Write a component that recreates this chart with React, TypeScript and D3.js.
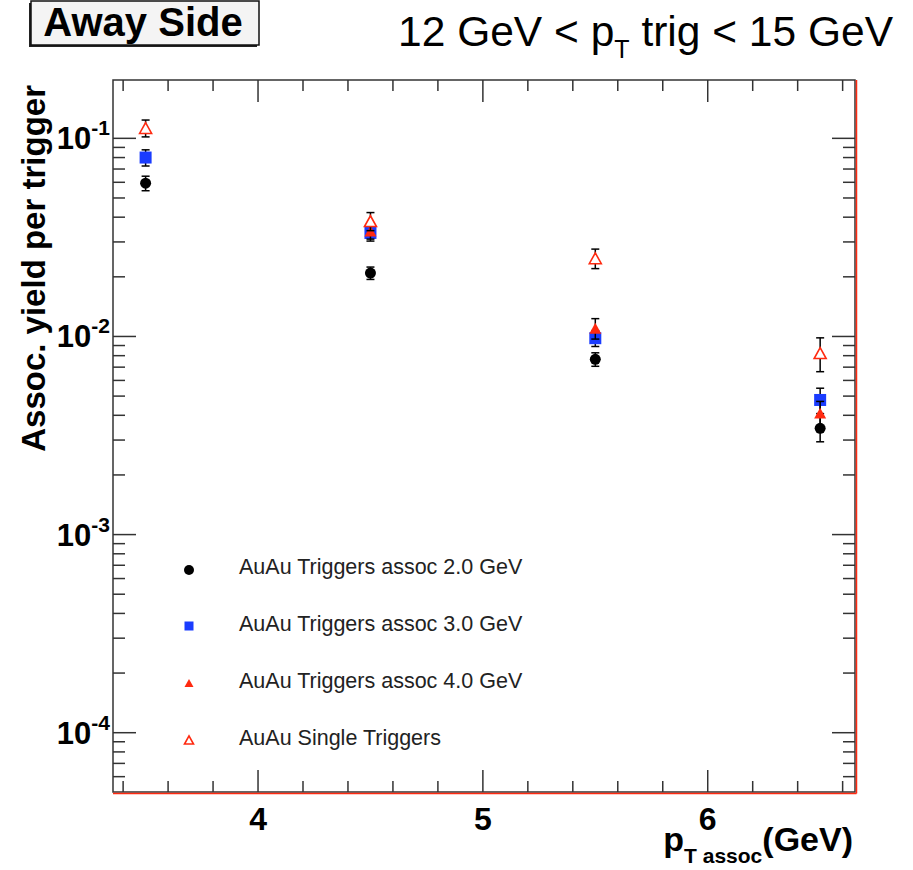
import React from "react";
import * as d3 from "d3";

// pT assoc bin centres (GeV)
const binCentres = [3.5, 4.5, 5.5, 6.5];

// Away-side associated yield per trigger, 12 < pT trig < 15 GeV
const assoc2 = [0.0594, 0.0209, 0.00767, 0.00344];
const assoc2Err = [0.005, 0.0015, 0.0006, 0.0005];
const assoc3 = [0.08, 0.0333, 0.0098, 0.00478];
const assoc3Err = [0.0075, 0.003, 0.0009, 0.0007];
const assoc4: (number | null)[] = [null, 0.034, 0.011, 0.0041];
const assoc4Err: (number | null)[] = [null, 0.003, 0.0013, 0.0006];
const single = [0.1127, 0.0382, 0.0248, 0.00824];
const singleErr = [0.011, 0.004, 0.0028, 0.0016];

const legendLabels = [
  "AuAu Triggers assoc 2.0 GeV",
  "AuAu Triggers assoc 3.0 GeV",
  "AuAu Triggers assoc 4.0 GeV",
  "AuAu Single Triggers",
];

const xTickLabels = [4, 5, 6];
const yDecades = [-1, -2, -3, -4];

const W = 913;
const H = 870;
const L = 113, R = 855, T = 80, B = 792;

const RED = "#ff2a10";
const BLUE = "#1a3cff";
const FONT = "'Liberation Sans', Arial, Helvetica, sans-serif";

type Kind = "circle" | "square" | "tri" | "otri";

function Marker({ kind, cx, cy, s }: { kind: Kind; cx: number; cy: number; s: number }) {
  if (kind === "circle") return <circle cx={cx} cy={cy} r={s / 2} fill="#000" />;
  if (kind === "square")
    return <rect x={cx - s / 2} y={cy - s / 2} width={s} height={s} fill={BLUE} />;
  const h = s * 0.9;
  const pts = `${cx - s / 2},${cy + h / 2} ${cx + s / 2},${cy + h / 2} ${cx},${cy - h / 2}`;
  if (kind === "tri") return <polygon points={pts} fill={RED} />;
  return <polygon points={pts} fill="#fff" stroke={RED} strokeWidth={1.6} />;
}

export default function App() {
  const x = d3.scaleLinear().domain([3.355, 6.655]).range([L, R]);
  const y = d3.scaleLog().domain([5.02e-5, 0.197]).range([B, T]);

  const xMinor = d3.range(3.4, 6.66, 0.2).map((v) => Math.round(v * 10) / 10);
  const yTicks: { v: number; major: boolean }[] = [];
  for (let e = -5; e <= 0; e++) {
    for (let m = 1; m <= 9; m++) {
      const v = m * Math.pow(10, e);
      if (v >= 5.02e-5 && v <= 0.197) yTicks.push({ v, major: m === 1 });
    }
  }

  const series: { kind: Kind; vals: (number | null)[]; errs: (number | null)[]; size: number }[] = [
    { kind: "circle", vals: assoc2, errs: assoc2Err, size: 11 },
    { kind: "square", vals: assoc3, errs: assoc3Err, size: 12 },
    { kind: "tri", vals: assoc4, errs: assoc4Err, size: 12 },
    { kind: "otri", vals: single, errs: singleErr, size: 12 },
  ];

  const legendY = [570, 626, 683, 740];
  const legendKinds: Kind[] = ["circle", "square", "tri", "otri"];

  return (
    <svg
      width={W}
      height={H}
      style={{ position: "absolute", left: 0, top: 0, background: "#fff" }}
      fontFamily={FONT}
    >
      <rect x={0} y={0} width={W} height={H} fill="#fff" />

      {/* title box */}
      <rect x={29} y={3} width={228} height={44} fill="#222" />
      <rect x={31} y={1} width={228} height={44} fill="#f4f4f4" stroke="#111" strokeWidth={1.5} />
      <text x={143} y={36} textAnchor="middle" fontSize={40} fontWeight="bold" fill="#000">
        Away Side
      </text>

      {/* trigger range */}
      <text x={893} y={46} textAnchor="end" fontSize={42.5} fill="#000">
        12 GeV {"<"} p
        <tspan fontSize={25} dy={12}>T</tspan>
        <tspan dy={-12}> trig {"<"} 15 GeV</tspan>
      </text>

      {/* ticks */}
      <g stroke="#333" strokeWidth={1.5}>
        {xMinor.map((v) => {
          const major = Math.abs(v - Math.round(v)) < 1e-6;
          const len = major ? 22 : 11;
          return (
            <g key={`xt${v}`}>
              <line x1={x(v)} x2={x(v)} y1={B} y2={B - len} />
              <line x1={x(v)} x2={x(v)} y1={T} y2={T + len} />
            </g>
          );
        })}
        {yTicks.map((t, i) => {
          const len = t.major ? 23 : 12;
          return (
            <g key={`yt${i}`}>
              <line x1={L} x2={L + len} y1={y(t.v)} y2={y(t.v)} />
              <line x1={R} x2={R - len} y1={y(t.v)} y2={y(t.v)} />
            </g>
          );
        })}
      </g>

      {/* frame */}
      <rect x={L} y={T} width={R - L} height={B - T} fill="none" stroke="#333" strokeWidth={1.5} />
      <line x1={R + 1.5} x2={R + 1.5} y1={T} y2={B + 1.5} stroke={RED} strokeWidth={1.5} />
      <line x1={L} x2={R + 1.5} y1={B + 1.5} y2={B + 1.5} stroke={RED} strokeWidth={1.5} />

      {/* y tick labels */}
      {yDecades.map((e) => (
        <text key={`yl${e}`} x={110} y={y(Math.pow(10, e)) + 11} textAnchor="end" fontWeight="bold" fill="#000">
          <tspan fontSize={31}>10</tspan>
          <tspan fontSize={21} dy={-14}>{`-${Math.abs(e)}`}</tspan>
        </text>
      ))}

      {/* x tick labels */}
      {xTickLabels.map((v) => (
        <text key={`xl${v}`} x={x(v)} y={830} textAnchor="middle" fontSize={32} fontWeight="bold" fill="#000">
          {v}
        </text>
      ))}

      {/* axis titles */}
      <text x={853} y={851} textAnchor="end" fontWeight="bold" fill="#000">
        <tspan fontSize={34}>p</tspan>
        <tspan fontSize={21} dy={12}>T assoc</tspan>
        <tspan fontSize={34} dy={-12}>(GeV)</tspan>
      </text>
      <text
        transform={`translate(45,85) rotate(-90)`}
        textAnchor="end"
        fontSize={33}
        fontWeight="bold"
        fill="#000"
      >
        Assoc. yield per trigger
      </text>

      {/* data */}
      {series.map((s, si) => (
        <g key={`s${si}`}>
          {binCentres.map((xc, i) => {
            const v = s.vals[i];
            const e = s.errs[i];
            if (v == null || e == null) return null;
            const px = x(xc);
            const y1 = y(v + e);
            const y2 = y(v - e);
            return (
              <g key={`p${i}`}>
                <g stroke="#000" strokeWidth={1.5}>
                  <line x1={px} x2={px} y1={y1} y2={y2} />
                  <line x1={px - 4} x2={px + 4} y1={y1} y2={y1} />
                  <line x1={px - 4} x2={px + 4} y1={y2} y2={y2} />
                </g>
                <Marker kind={s.kind} cx={px} cy={y(v)} s={s.size} />
              </g>
            );
          })}
        </g>
      ))}

      {/* legend */}
      {legendLabels.map((lab, i) => (
        <g key={`lg${i}`}>
          <Marker kind={legendKinds[i]} cx={189} cy={legendY[i]} s={legendKinds[i] === "circle" ? 10 : 9} />
          <text x={239} y={legendY[i] + 5 + (i === 0 ? -1 : 0)} fontSize={21.5} fill="#222">
            {lab}
          </text>
        </g>
      ))}
    </svg>
  );
}
